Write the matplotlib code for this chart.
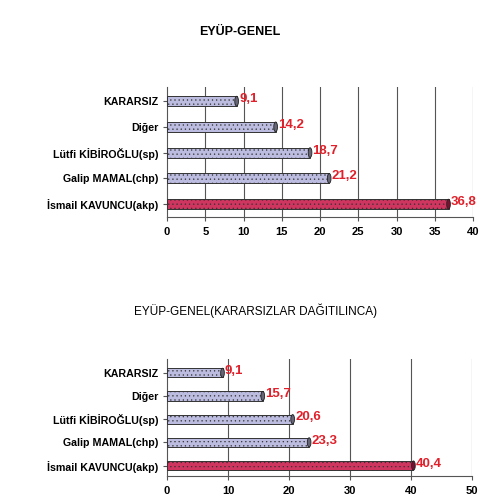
import matplotlib.pyplot as plt
from matplotlib.patches import Ellipse

plt.rcParams['font.family'] = ['Liberation Sans', 'DejaVu Sans']
plt.rcParams['hatch.color'] = '#ffffff'

candidates = ['İsmail KAVUNCU(akp)', 'Galip MAMAL(chp)', 'Lütfi KİBİROĞLU(sp)', 'Diğer', 'KARARSIZ']
genel = [36.8, 21.2, 18.7, 14.2, 9.1]
dagitilinca = [40.4, 23.3, 20.6, 15.7, 9.1]
bar_colors = ['#d03560', '#bcbce0', '#bcbce0', '#bcbce0', '#bcbce0']
cap_colors = ['#7a1030', '#666677', '#666677', '#666677', '#666677']


def draw_chart(ax, values, xmax, step, ylim, bar_h):
    ypos = list(range(len(values)))
    ax.set_xlim(0, xmax)
    ax.set_ylim(*ylim)
    bars = ax.barh(ypos, values, height=bar_h, color=bar_colors, edgecolor='#333333',
                   linewidth=0.7, hatch='....', zorder=3)
    for b in bars:
        b.set_hatch_linewidth(0.4)
    # end caps of the cylinders
    for y, v, c in zip(ypos, values, cap_colors):
        ax.add_patch(Ellipse((v, y), width=xmax * 0.012, height=bar_h, facecolor=c,
                             edgecolor='#222222', linewidth=0.6, zorder=4))
        ax.text(v + xmax * 0.008, y + 0.08, f'{v:.1f}'.replace('.', ','), color='#e0202a',
                fontsize=9.5, fontweight='bold', va='center', ha='left', zorder=5)
    ticks = list(range(0, xmax + 1, step))
    ax.set_xticks(ticks)
    ax.set_xticklabels([str(t) for t in ticks], fontsize=8, fontweight='bold')
    ax.set_yticks(ypos)
    ax.set_yticklabels(candidates, fontsize=7.7, fontweight='bold')
    for t in ticks[1:]:
        ax.axvline(t, color='#555555', linewidth=0.8, zorder=1)
    for s in ['top', 'right']:
        ax.spines[s].set_visible(False)
    ax.spines['left'].set_color('#555555')
    ax.spines['bottom'].set_color('#555555')
    ax.tick_params(axis='y', length=3, pad=3, color='#555555')
    ax.tick_params(axis='x', length=3, pad=4, color='#555555')


fig = plt.figure(figsize=(5, 4.98), dpi=100)

ax1 = fig.add_axes([0.334, 0.5643, 0.612, 0.261])
draw_chart(ax1, genel, 40, 5, (-0.5, 4.55), 0.38)
fig.text(0.48, 0.935, 'EYÜP-GENEL', ha='center', va='center', fontsize=9, fontweight='bold')

ax2 = fig.add_axes([0.334, 0.0442, 0.61, 0.235])
draw_chart(ax2, dagitilinca, 50, 10, (-0.45, 4.6), 0.4)
fig.text(0.512, 0.376, 'EYÜP-GENEL(KARARSIZLAR DAĞITILINCA)', ha='center', va='center',
         fontsize=8.5)

fig.savefig('out.png', dpi=100)
